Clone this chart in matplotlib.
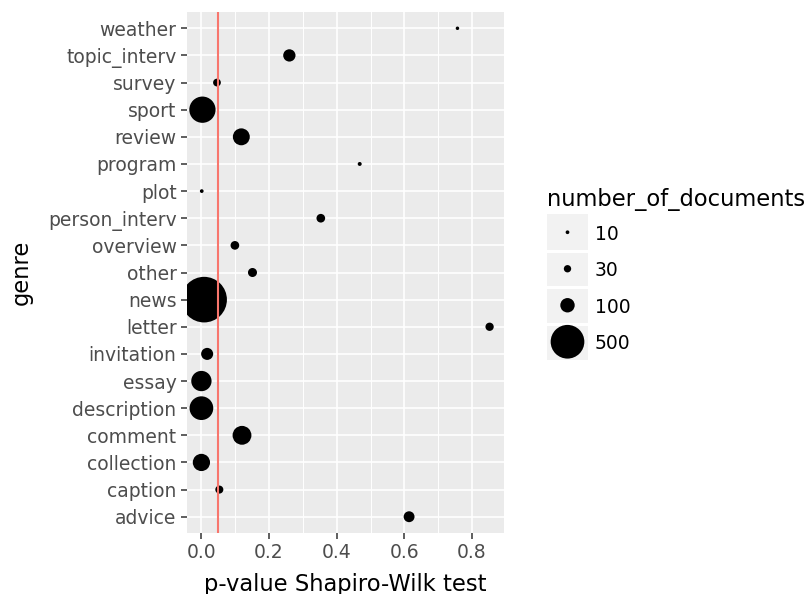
import numpy as np
import matplotlib.pyplot as plt
from matplotlib.ticker import MultipleLocator

# --- data (bottom -> top, alphabetical)
genres = ["advice", "caption", "collection", "comment", "description", "essay",
          "invitation", "letter", "news", "other", "overview", "person_interv",
          "plot", "program", "review", "sport", "survey", "topic_interv", "weather"]
p_values = [0.614, 0.053, 0.0, 0.12, 0.0, 0.0,
            0.017, 0.852, 0.008, 0.151, 0.099, 0.353,
            0.001, 0.468, 0.118, 0.003, 0.046, 0.260, 0.757]
n_docs = [60, 35, 140, 165, 255, 190,
          72, 37, 900, 43, 40, 40,
          10, 11, 135, 310, 33, 75, 9]

legend_breaks = [10, 30, 100, 500]
threshold = 0.05

DPI = 100
W, H = 811, 594


def dot_area(n):
    # diameter in pixels, fitted to the legend keys, then to points^2
    d_px = -1.2 + 1.56 * np.sqrt(np.asarray(n, dtype=float))
    return (d_px * 72 / DPI) ** 2


fig = plt.figure(figsize=(W / DPI, H / DPI), dpi=DPI)

# --- main panel
ax = fig.add_axes([187 / W, 1 - 533 / H, (504 - 187) / W, (533 - 12) / H])
ax.set_facecolor("#EBEBEB")
for s in ax.spines.values():
    s.set_visible(False)

ypos = np.arange(len(genres))
ax.scatter(p_values, ypos, s=dot_area(n_docs), color="black",
           edgecolors="none", zorder=3)
ax.axvline(threshold, color="#F8766D", lw=1.5, zorder=4)

lo, hi = min(p_values), max(p_values)
pad = 0.05 * (hi - lo)
ax.set_xlim(lo - pad, hi + pad)
ax.set_ylim(-0.6, len(genres) - 0.4)

ax.xaxis.set_major_locator(MultipleLocator(0.2))
ax.xaxis.set_minor_locator(MultipleLocator(0.1))
ax.set_yticks(ypos)
ax.set_yticklabels(genres)
ax.set_xticklabels([f"{v:.1f}" for v in ax.get_xticks()])

ax.grid(which="major", color="white", lw=1.2, zorder=0)
ax.grid(which="minor", axis="x", color="white", lw=0.7, zorder=0)
ax.set_axisbelow(True)
ax.tick_params(which="major", length=4.5, width=1.1, color="#333333",
               labelcolor="#4D4D4D", labelsize=13.5, pad=3)
ax.tick_params(which="minor", length=0)

fig.text(21 / W, 1 - 272 / H, "genre", rotation=90, ha="center",
         va="center", fontsize=16.3)
fig.text(345.5 / W, 1 - 573 / H, "p-value Shapiro-Wilk test", ha="center",
         va="top", fontsize=16.3)

# --- size legend
fig.text(547 / W, 1 - 188 / H, "number_of_documents", ha="left", va="top",
         fontsize=16.3)
lax = fig.add_axes([547 / W, 1 - 360 / H, (588 - 547) / W, (360 - 214) / H])
lax.set_facecolor("#F2F2F2")
for s in lax.spines.values():
    s.set_visible(False)
lax.set_xlim(0, 1)
lax.set_ylim(0, len(legend_breaks))
key_y = np.arange(len(legend_breaks))[::-1] + 0.5
lax.scatter([0.5] * len(legend_breaks), key_y, s=dot_area(legend_breaks),
            color="black", edgecolors="none", clip_on=False, zorder=3)
for yb in range(1, len(legend_breaks)):
    lax.axhline(yb, color="white", lw=2.2)
lax.set_xticks([])
lax.set_yticks(key_y)
lax.set_yticklabels([str(b) for b in legend_breaks])
lax.yaxis.tick_right()
lax.tick_params(axis="y", length=0, pad=5, labelsize=13.5, labelcolor="black")

fig.savefig("out.png", dpi=DPI)
